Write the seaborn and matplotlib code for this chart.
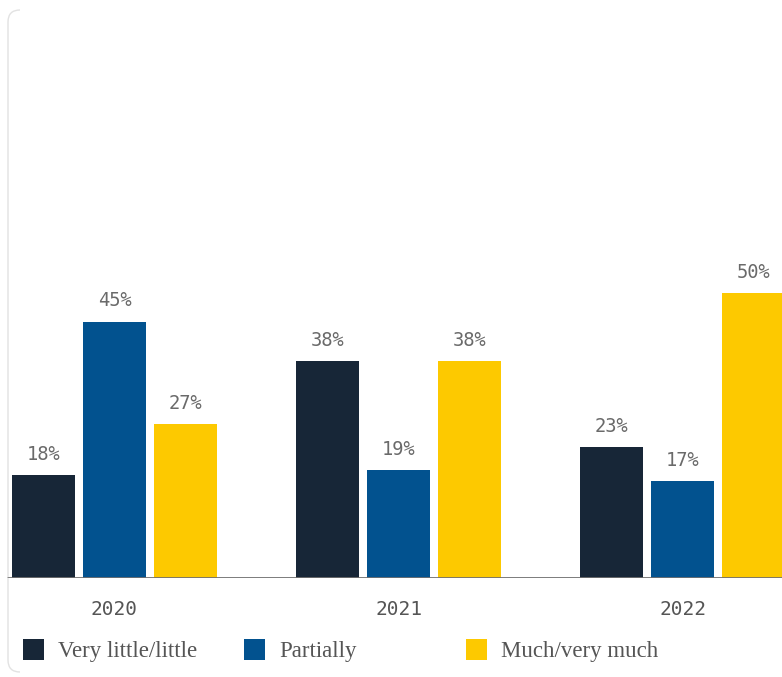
import matplotlib
matplotlib.use("Agg")
import matplotlib.pyplot as plt
from matplotlib.patches import FancyBboxPatch, Rectangle
import seaborn as sns
import pandas as pd

# Survey shares per year and answer
years = ["2020", "2021", "2022"]
answers = ["Very little/little", "Partially", "Much/very much"]
very_little = [18, 38, 23]
partially = [45, 19, 17]
much = [27, 38, 50]
colors = ["#172637", "#02528f", "#fdc900"]

df = pd.DataFrame({
    "year": years * 3,
    "answer": [answers[0]] * 3 + [answers[1]] * 3 + [answers[2]] * 3,
    "share": very_little + partially + much,
})

sns.set_theme(style="white")
plt.rcParams["font.family"] = ["DejaVu Sans Mono", "DejaVu Sans"]

W, H = 782, 677
fig = plt.figure(figsize=(W / 100, H / 100), dpi=100)
fig.patch.set_facecolor("white")

# Card outline: only the rounded left edge shows
card = FancyBboxPatch((0.08, 0.05), 8.2, 6.62,
                      boxstyle="round,pad=0,rounding_size=0.12",
                      transform=fig.dpi_scale_trans,
                      facecolor="none", edgecolor="#e2e2e2", lw=1.0, zorder=0)
fig.add_artist(card)
clip = Rectangle((0, 0), 0.2, 6.77, transform=fig.dpi_scale_trans,
                 visible=False)
fig.add_artist(clip)
card.set_clip_path(clip)

ax = fig.add_axes([0, (H - 578) / H, 1, 570 / H])
ax.set_facecolor("none")

sns.barplot(data=df, x="year", y="share", hue="answer", order=years,
            hue_order=answers, palette=colors, width=0.75, gap=0.11,
            saturation=1, legend=False, ax=ax, edgecolor="none")

for cont in ax.containers:
    ax.bar_label(cont, fmt="%g%%", padding=8, fontsize=13.5, color="#6a6a6a",
                 family="DejaVu Sans Mono")

ax.set_xlim(-0.403, 2.350)
ax.set_ylim(0, 100)
ax.set_xlabel("")
ax.set_ylabel("")
ax.set_yticks([])
ax.tick_params(axis="x", length=0, pad=16, labelsize=14, labelcolor="#555555")
for lab in ax.get_xticklabels():
    lab.set_family("DejaVu Sans Mono")
for s in ax.spines.values():
    s.set_visible(False)
ax.axhline(0, xmin=8 / W, xmax=1, color="#707070", lw=2.0, zorder=5)

# Legend row
leg_x = [23, 244, 466]
for x0, name, col in zip(leg_x, answers, colors):
    fig.add_artist(Rectangle((x0 / W, (H - 660) / H), 21 / W, 21 / H,
                             transform=fig.transFigure, facecolor=col,
                             edgecolor="none"))
    fig.text((x0 + 35) / W, (H - 652) / H, name, va="center", ha="left",
             fontsize=16.5, color="#555555", family="Liberation Serif")

fig.savefig("out.png", dpi=100)
